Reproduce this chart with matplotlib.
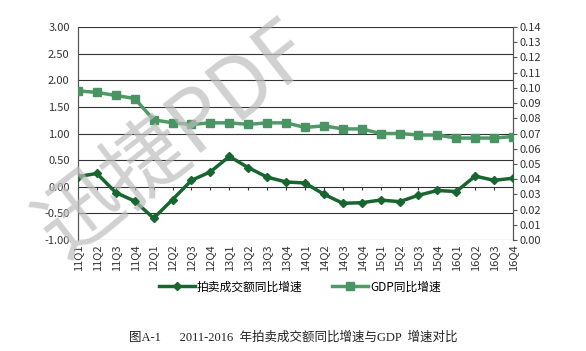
import numpy as np
import matplotlib
matplotlib.use('Agg')
import matplotlib.pyplot as plt

plt.rcParams['font.family'] = ['Noto Sans CJK SC', 'DejaVu Sans']

quarters = ['11Q1', '11Q2', '11Q3', '11Q4', '12Q1', '12Q2', '12Q3', '12Q4',
            '13Q1', '13Q2', '13Q3', '13Q4', '14Q1', '14Q2', '14Q3', '14Q4',
            '15Q1', '15Q2', '15Q3', '15Q4', '16Q1', '16Q2', '16Q3', '16Q4']
auction = [0.19, 0.25, -0.11, -0.27, -0.59, -0.24, 0.12, 0.28,
           0.57, 0.36, 0.18, 0.09, 0.07, -0.14, -0.31, -0.30,
           -0.25, -0.28, -0.16, -0.07, -0.09, 0.20, 0.12, 0.16]
gdp = [0.098, 0.097, 0.095, 0.093, 0.079, 0.077, 0.076, 0.077,
       0.077, 0.076, 0.077, 0.077, 0.074, 0.075, 0.073, 0.073,
       0.070, 0.070, 0.069, 0.069, 0.067, 0.067, 0.067, 0.068]
left_ticks = np.arange(-1.0, 3.01, 0.5)
right_ticks = np.arange(0, 0.1401, 0.01)

fig = plt.figure(figsize=(5.86, 3.51), dpi=100)
ax = fig.add_axes([78/586, 1-240/351, 435/586, 213/351])
ax2 = ax.twinx()
x = np.arange(len(quarters))

for y in left_ticks:
    ax.axhline(y, color='#333333', lw=0.8, zorder=1)
ax.vlines(x, -0.07, 0, color='#333333', lw=0.8, zorder=1)

ax.set_ylim(-1, 3)
ax.set_yticks(left_ticks)
ax.set_yticklabels(['%.2f' % v for v in left_ticks], fontsize=8, color='#333333')
ax.tick_params(axis='y', length=0, pad=6)
ax.set_xlim(0, len(quarters) - 1)
ax.set_xticks(x)
ax.set_xticklabels(quarters, rotation=90, fontsize=8, color='#333333')
ax.tick_params(axis='x', length=0, pad=3)

ax2.set_ylim(0, 0.14)
ax2.set_yticks(right_ticks)
ax2.set_yticklabels(['%.2f' % v for v in right_ticks], fontsize=8, color='#333333')
ax2.tick_params(axis='y', length=3, width=0.8, color='#555555', pad=2)

for a in (ax, ax2):
    for s in ['top', 'bottom']:
        a.spines[s].set_visible(False)
    a.spines['left'].set_color('#555555')
    a.spines['right'].set_color('#555555')

l2, = ax2.plot(x, gdp, color='#4f9a68', lw=2.5, marker='s', markersize=6,
               markerfacecolor='#4a9463', markeredgecolor='#4a9463', label='GDP同比增速', zorder=3)
# auction growth is read on the left scale; map it onto the right one
l1, = ax2.plot(x, (np.array(auction) + 1) * 0.035, color='#17662f', lw=2.5, marker='D',
               markersize=4, label='拍卖成交额同比增速', zorder=4)

fig.legend(handles=[l1, l2], loc='center', bbox_to_anchor=(300/586, 1-287/351),
           ncol=2, frameon=False, fontsize=8.5, handlelength=3, columnspacing=2.5,
           handletextpad=0.2)

fig.text(0.5, 1-338/351, '图A-1      2011-2016  年拍卖成交额同比增速与GDP  增速对比',
         ha='center', va='center', fontsize=9,
         family=['Liberation Serif', 'Noto Sans CJK SC'], color='#222222')

# watermark
fig.text(175/586, 1-140/351, '迅捷PDF', rotation=38, fontsize=60, color='#bdbdbd',
         alpha=0.7, ha='center', va='center', zorder=10)

fig.savefig('out.png', dpi=100)
